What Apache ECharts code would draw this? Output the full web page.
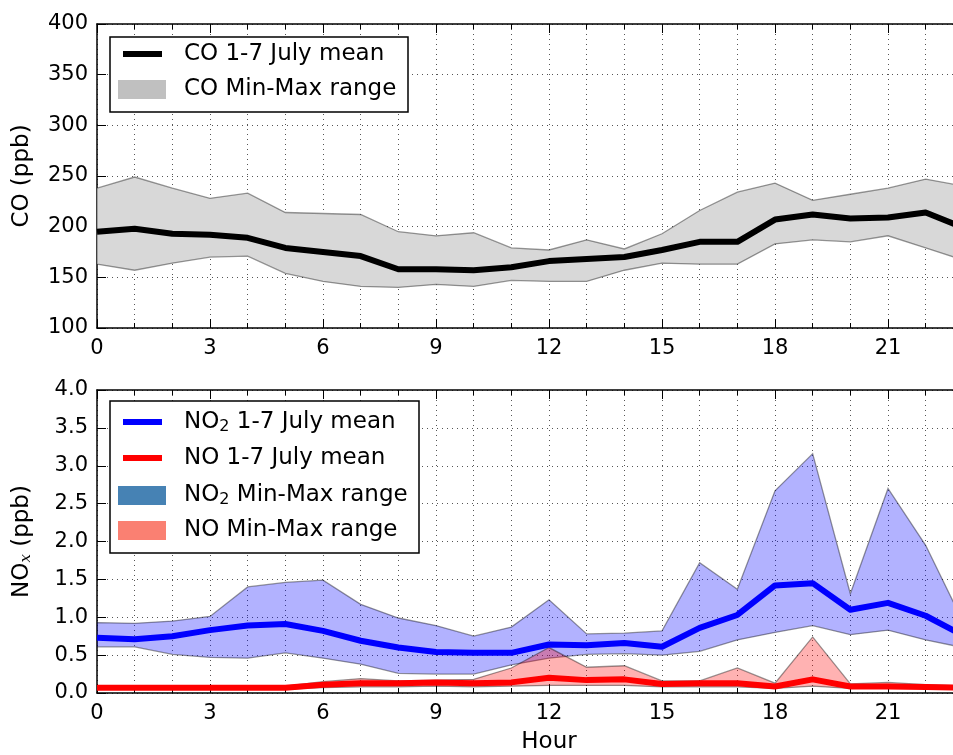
<!DOCTYPE html>
<html>
<head>
<meta charset="utf-8">
<script src="https://cdn.jsdelivr.net/npm/echarts@6/dist/echarts.min.js"></script>
<style>html,body{margin:0;padding:0;background:#fff;}#c{width:953px;height:755px;}</style>
</head>
<body>
<div id="c"></div>
<script>
const hours = [0,1,2,3,4,5,6,7,8,9,10,11,12,13,14,15,16,17,18,19,20,21,22,23];
const coMean = [195,198,193,192,189,179,175,171,158,158,157,160,166,168,170,177,185,185,207,212,208,209,214,199];
const coMin  = [163,157,164,170,171,154,146,141,140,143,141,147,146,146,157,164,163,163,183,187,185,191,179,167];
const coMax  = [238,249,238,228,233,214,213,212,195,191,194,179,177,187,178,193,216,234,243,226,232,238,247,240];
const no2Mean = [0.73,0.71,0.75,0.83,0.89,0.91,0.82,0.69,0.60,0.54,0.53,0.53,0.64,0.63,0.66,0.61,0.86,1.03,1.42,1.45,1.10,1.19,1.02,0.76];
const no2Min  = [0.61,0.61,0.51,0.47,0.46,0.53,0.46,0.38,0.26,0.25,0.25,0.37,0.46,0.51,0.52,0.50,0.55,0.70,0.80,0.89,0.77,0.83,0.70,0.60];
const no2Max  = [0.93,0.92,0.95,1.01,1.40,1.46,1.49,1.17,0.99,0.89,0.75,0.87,1.23,0.78,0.79,0.82,1.72,1.37,2.67,3.16,1.31,2.70,1.95,0.93];
const noMean = [0.07,0.07,0.07,0.07,0.07,0.07,0.11,0.13,0.13,0.14,0.13,0.14,0.20,0.17,0.18,0.12,0.13,0.13,0.085,0.18,0.085,0.085,0.08,0.07];
const noMin  = [0.05,0.05,0.05,0.05,0.05,0.05,0.07,0.08,0.08,0.09,0.08,0.09,0.10,0.10,0.10,0.08,0.08,0.08,0.06,0.09,0.06,0.06,0.06,0.05];
const noMax  = [0.09,0.09,0.09,0.09,0.09,0.09,0.15,0.19,0.16,0.17,0.18,0.33,0.60,0.34,0.36,0.16,0.16,0.33,0.13,0.74,0.12,0.14,0.11,0.09];
const xTickLabels = [0,3,6,9,12,15,18,21];

const FONT = 'DejaVu Sans';
const gridLine = {show:true, lineStyle:{color:'#555', type:[1,4], width:1}};

function xAx(grid, pos, main, name) {
  return {
    type:'value', gridIndex:grid, position:pos, min:0, max:24, interval:3,
    name: name || '', nameLocation:'middle', nameGap:38,
    nameTextStyle:{fontSize:23, fontFamily:FONT, color:'#000'},
    axisLine:{show:true, onZero:false, lineStyle:{color:'#000', width:1.5}},
    axisTick:{show:true, inside:true, length:9, lineStyle:{color:'#000', width:1}},
    minorTick:{show:true, splitNumber:3, length:5, lineStyle:{color:'#000', width:1}},
    axisLabel:{show:main, fontSize:21, fontFamily:FONT, color:'#000', margin:10,
      formatter: v => xTickLabels.indexOf(v) >= 0 ? String(v) : ''},
    splitLine: main ? gridLine : {show:false},
    minorSplitLine: main ? gridLine : {show:false}
  };
}
function yAx(grid, min, max, interval, name, fmt, rich) {
  return {
    type:'value', gridIndex:grid, position:'left', min:min, max:max, interval:interval,
    name:name, nameLocation:'middle', nameGap:63,
    nameTextStyle:{fontSize:23, fontFamily:FONT, color:'#000', rich:rich},
    axisLine:{show:true, onZero:false, lineStyle:{color:'#000', width:1.5}},
    axisTick:{show:true, inside:true, length:9, lineStyle:{color:'#000', width:1}},
    axisLabel:{fontSize:21, fontFamily:FONT, color:'#000', margin:9, formatter:fmt},
    splitLine: gridLine
  };
}
function band(xs, lo, hi, fill, xi, yi, z) {
  return {
    type:'custom', xAxisIndex:xi, yAxisIndex:yi, clip:true, silent:true, z:z,
    data: xs.map((x,i)=>[x, lo[i], hi[i]]),
    encode:{x:0, y:[1,2]},
    renderItem: function(params, api){
      if (params.dataIndex !== 0) return null;
      const pts = [];
      for (let i=0;i<xs.length;i++) pts.push(api.coord([xs[i], hi[i]]));
      for (let i=xs.length-1;i>=0;i--) pts.push(api.coord([xs[i], lo[i]]));
      return {type:'polygon', shape:{points:pts}, style:{fill:fill, stroke:'rgba(0,0,0,0.4)', lineWidth:1.3}};
    }
  };
}
function meanLine(xs, ys, color, xi, yi, z) {
  return {
    type:'line', xAxisIndex:xi, yAxisIndex:yi, z:z, silent:true,
    data: xs.map((x,i)=>[x, ys[i]]), showSymbol:false, symbol:'none',
    lineStyle:{color:color, width:6, join:'round'}, itemStyle:{color:color}
  };
}

const chart = echarts.init(document.getElementById('c'), null, {renderer:'canvas'});
const txt = (x, y, text, rich) => ({type:'text', x:x, y:y, z:102,
  style:{text:text, font:'23px "DejaVu Sans"', fill:'#000', align:'left', verticalAlign:'middle', rich:rich}});
const subRich = {s:{fontSize:16, fontFamily:FONT, fill:'#000', padding:[10,0,0,0]}};

chart.setOption({
  animation:false,
  backgroundColor:'#fff',
  grid:[
    {left:97, top:24, width:904, height:304, outerBoundsMode:'none', containLabel:false},
    {left:97, top:390, width:904, height:303, outerBoundsMode:'none', containLabel:false}
  ],
  xAxis:[ xAx(0,'bottom',true), xAx(0,'top',false), xAx(1,'bottom',true,'Hour'), xAx(1,'top',false) ],
  yAxis:[
    yAx(0,100,400,50,'CO (ppb)', v=>String(v)),
    yAx(1,0,4,0.5,'NO{i|x} (ppb)', v=>v.toFixed(1), {i:{fontSize:15, fontStyle:'italic', fontFamily:'DejaVu Serif', verticalAlign:'bottom'}})
  ],
  series:[
    band(hours, coMin, coMax, '#d8d8d8', 0, 0, 1),
    meanLine(hours, coMean, '#000', 0, 0, 3),
    band(hours, no2Min, no2Max, 'rgba(0,0,255,0.3)', 2, 1, 1),
    band(hours, noMin, noMax, 'rgba(255,0,0,0.3)', 2, 1, 2),
    meanLine(hours, no2Mean, '#0000ff', 2, 1, 3),
    meanLine(hours, noMean, '#ff0000', 2, 1, 4)
  ],
  graphic:[
    {type:'rect', z:100, shape:{x:110, y:37, width:298, height:75}, style:{fill:'#fff', stroke:'#000', lineWidth:1.5}},
    {type:'line', z:101, shape:{x1:123, y1:54, x2:162, y2:54}, style:{stroke:'#000', lineWidth:6}},
    txt(184, 54, 'CO 1-7 July mean'),
    {type:'rect', z:101, shape:{x:118, y:80, width:48, height:19}, style:{fill:'#c0c0c0'}},
    txt(184, 89, 'CO Min-Max range'),

    {type:'rect', z:100, shape:{x:110, y:401, width:309, height:152}, style:{fill:'#fff', stroke:'#000', lineWidth:1.5}},
    {type:'line', z:101, shape:{x1:123, y1:422, x2:162, y2:422}, style:{stroke:'#0000ff', lineWidth:6}},
    txt(184, 422, 'NO{s|2} 1-7 July mean', subRich),
    {type:'line', z:101, shape:{x1:123, y1:458, x2:162, y2:458}, style:{stroke:'#ff0000', lineWidth:6}},
    txt(184, 458, 'NO 1-7 July mean'),
    {type:'rect', z:101, shape:{x:118, y:486, width:48, height:19}, style:{fill:'#4682b4'}},
    txt(184, 495, 'NO{s|2} Min-Max range', subRich),
    {type:'rect', z:101, shape:{x:118, y:521, width:48, height:19}, style:{fill:'#fa8072'}},
    txt(184, 530, 'NO Min-Max range')
  ]
});
</script>
</body>
</html>
